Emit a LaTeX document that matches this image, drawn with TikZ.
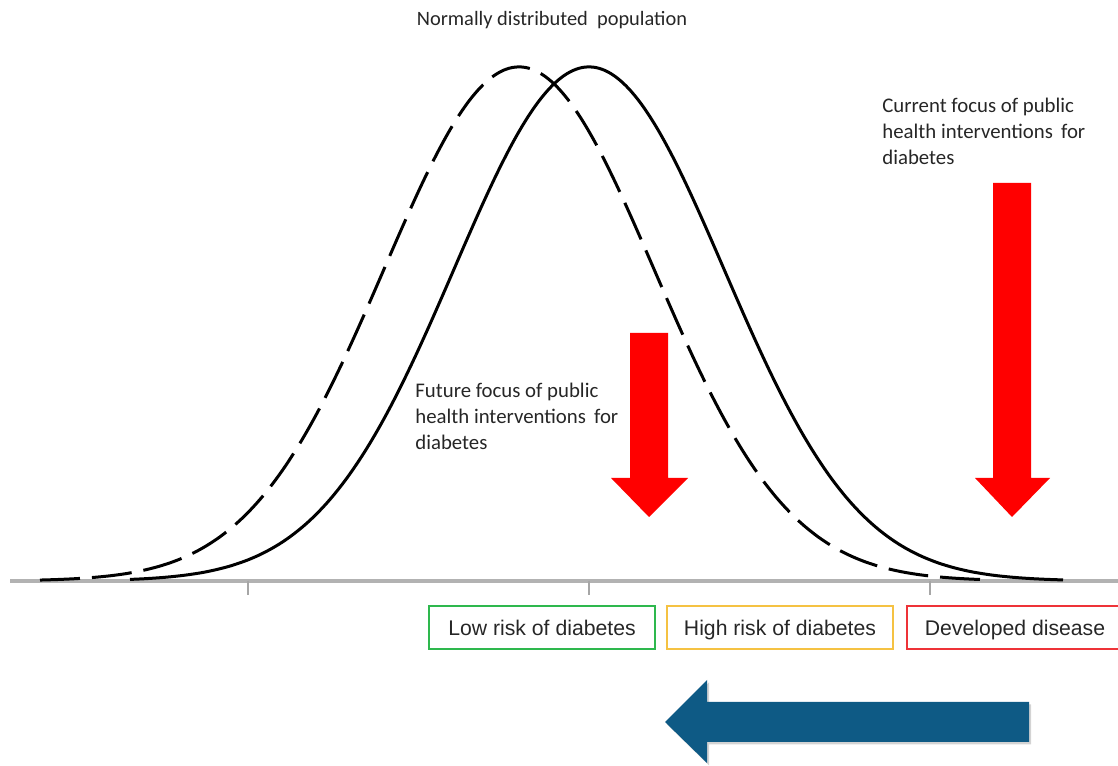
\documentclass[tikz,border=0pt]{standalone}
\usepackage{fontspec}
\setmainfont{Carlito}
\newfontfamily\labelfont{Liberation Sans}
\usetikzlibrary{positioning,shadows}
\definecolor{lowrisk}{HTML}{2EB84E}
\definecolor{highrisk}{HTML}{F5C243}
\definecolor{devdis}{HTML}{EE3338}
\definecolor{shiftblue}{HTML}{0E5A85}

\begin{document}
\begin{tikzpicture}[x=0.5pt,y=0.5pt,
  note/.style={align=left,anchor=north west,inner sep=0pt,font=\fontsize{10.4}{13}\selectfont,text=black!85},
  riskbox/.style={draw,line width=1pt,minimum width=113pt,minimum height=21.5pt,inner sep=0pt,text height=7.6pt,text depth=0.3pt,font=\labelfont\fontsize{10.6}{12}\selectfont,text=black!85},
  curve/.style={line width=1.5pt,line join=round,smooth,samples=160}]
  \useasboundingbox (0,0) rectangle (1118,765);
  % axis and ticks
  \draw[gray!60,line width=2pt] (10,184) -- (1118,184);
  \foreach \t in {248,589,930} \draw[gray!70,line width=0.8pt] (\t,184) -- (\t,170);
  % shifted and current population
  \draw[curve,dash pattern=on 20pt off 6pt] plot[domain=40:985] (\x,{184+514*exp(-0.5*((\x-519)/135)^2)});
  \draw[curve] plot[domain=130:1063] (\x,{184+514*exp(-0.5*((\x-589)/135)^2)});
  % red arrows
  \fill[red] (630,432) -- (668,432) -- (668,287) -- (688,287) -- (649,248) -- (611,287) -- (630,287) -- cycle;
  \fill[red] (993,582) -- (1031,582) -- (1031,287) -- (1050,287) -- (1012,248) -- (975,287) -- (993,287) -- cycle;
  % blue shift arrow
  \fill[shiftblue,drop shadow={opacity=0.35,shadow xshift=1pt,shadow yshift=-1.2pt}] (1029,63) -- (1029,23) -- (707,23) -- (707,2) -- (665,43) -- (707,85) -- (707,63) -- cycle;
  % texts
  \node[font=\fontsize{10.2}{13}\selectfont,text=black!85] (pop) at (552,745) {Normally distributed\ \ population};
  \node[note] (current) at (882,667) {Current focus of public\\health interventions\ \,for\\diabetes};
  \node[note] (future) at (415,382) {Future focus of public\\health interventions\ \,for\\diabetes};
  % risk groups
  \node[riskbox,draw=lowrisk] (low) at (542,137) {Low risk of diabetes};
  \node[riskbox,draw=highrisk,right=5pt of low] (high) {High risk of diabetes};
  \node[riskbox,draw=devdis,minimum width=108pt,right=6pt of high] (dev) {Developed disease};
\end{tikzpicture}
\end{document}
